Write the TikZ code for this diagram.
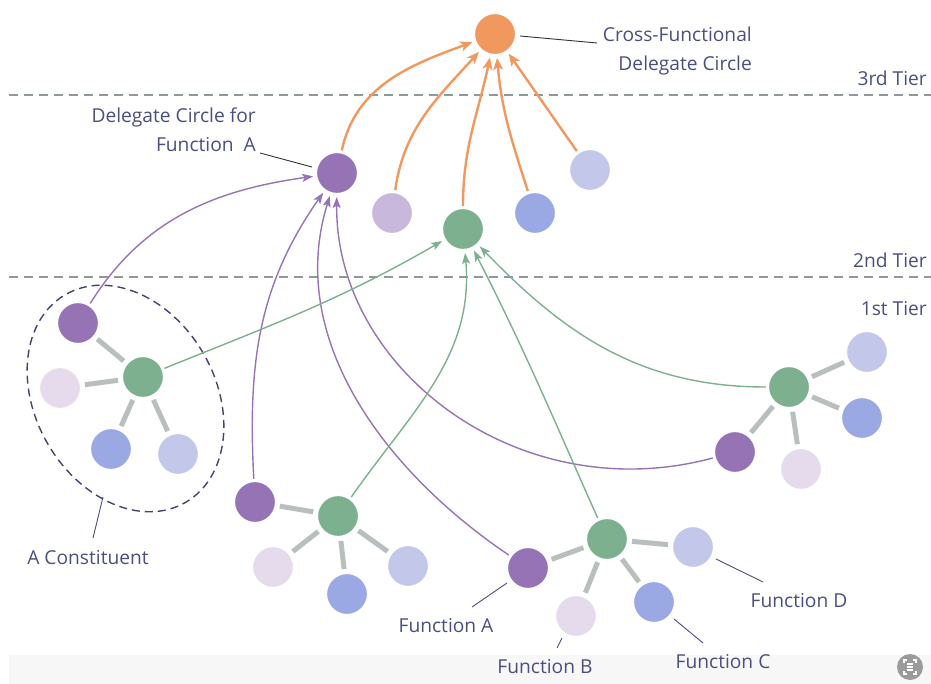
\documentclass[tikz,border=0pt]{standalone}
\usepackage{fontspec}
\setmainfont{Open Sans}
\usetikzlibrary{arrows.meta}

\definecolor{cpurple}{HTML}{9673B5}
\definecolor{cgreen}{HTML}{7DB08F}
\definecolor{corange}{HTML}{F0985E}
\definecolor{cblue}{HTML}{9AA8E4}
\definecolor{clav}{HTML}{C3C7EA}
\definecolor{cpink}{HTML}{E6DBEC}
\definecolor{clilac}{HTML}{C8B8DC}
\definecolor{spokegray}{HTML}{B9BFBC}
\definecolor{textnavy}{HTML}{4B4F7F}
\definecolor{tiergray}{HTML}{8E9999}
\definecolor{ringnavy}{HTML}{434370}
\definecolor{bandgray}{HTML}{F7F7F7}
\definecolor{icongray}{HTML}{9B9B9B}

\tikzset{
  dot/.style={circle, minimum size=41pt, inner sep=0pt, draw=white, line width=1.2pt, fill=#1},
  spoke/.style={draw=spokegray, line width=5pt, shorten <=4pt, shorten >=4pt},
  uparrow/.style={line width=2.4pt, draw=corange, -{Stealth[length=12pt,width=10pt,inset=3pt]}, shorten >=3pt, shorten <=2pt},
  purplearrow/.style={line width=1.4pt, draw=cpurple, -{Stealth[length=11pt,width=8pt,inset=2.5pt]}, shorten >=3pt, shorten <=2pt},
  greenarrow/.style={line width=1.4pt, draw=cgreen, -{Stealth[length=11pt,width=8pt,inset=2.5pt]}, shorten >=3pt, shorten <=2pt},
  lbl/.style={text=textnavy, font=\fontsize{19.2}{29}\selectfont, inner sep=0pt},
  tierline/.style={draw=tiergray, line width=1.3pt, dash pattern=on 9pt off 6pt},
  leaderdark/.style={draw=black!80, line width=0.9pt},
  leader/.style={draw=textnavy, line width=0.9pt},
}

\begin{document}
\begin{tikzpicture}[x=1pt,y=1pt]
\useasboundingbox (0,0) rectangle (931,-684);

% bottom strip
\fill[bandgray] (9,-655) rectangle (931,-684);
\fill[icongray] (910,-667) circle (13);
\draw[white, line width=1.1pt] (904,-663) -- (904,-660) -- (907,-660)
  (913,-660) -- (916,-660) -- (916,-663)
  (916,-671) -- (916,-674) -- (913,-674)
  (907,-674) -- (904,-674) -- (904,-671)
  (907,-664) -- (913,-664) (907,-667) -- (913,-667) (907,-670) -- (913,-670);

% tier separators
\draw[tierline] (9,-95) -- (931,-95);
\draw[tierline] (9,-277) -- (931,-277);
\node[lbl, anchor=east] (t3) at (927,-78) {3rd Tier};
\node[lbl, anchor=east] (t2) at (927,-260) {2nd Tier};
\node[lbl, anchor=east] (t1) at (927,-309) {1st Tier};

% constituent boundary
\draw[ringnavy, line width=1.4pt, dash pattern=on 8pt off 5pt,
      rotate around={30:(125.5,-398.5)}] (125.5,-398.5) ellipse [x radius=90, y radius=120];

% third tier
\node[dot=corange] (o) at (495,-34) {};

% second tier
\node[dot=cpurple] (dA) at (337,-173) {};
\node[dot=clilac]  (dL) at (392,-213) {};
\node[dot=cgreen]  (dG) at (463,-229) {};
\node[dot=cblue]   (dB) at (535,-213) {};
\node[dot=clav]    (dV) at (590,-170) {};

% constituent 1
\node[dot=cpurple] (p1) at (78,-323) {};
\node[dot=cpink]   (k1) at (60,-388) {};
\node[dot=cgreen]  (g1) at (143,-377) {};
\node[dot=cblue]   (b1) at (111,-449) {};
\node[dot=clav]    (v1) at (178,-454) {};

% constituent 2
\node[dot=cpurple] (p2) at (255,-502) {};
\node[dot=cgreen]  (g2) at (338,-516) {};
\node[dot=cpink]   (k2) at (273,-567) {};
\node[dot=cblue]   (b2) at (347,-594) {};
\node[dot=clav]    (v2) at (408,-566) {};

% constituent 3
\node[dot=cpurple] (p3) at (528,-568) {};
\node[dot=cgreen]  (g3) at (607,-539) {};
\node[dot=cpink]   (k3) at (576,-616) {};
\node[dot=cblue]   (b3) at (654,-602) {};
\node[dot=clav]    (v3) at (693,-547) {};

% constituent 4
\node[dot=cpurple] (p4) at (735,-452) {};
\node[dot=cgreen]  (g4) at (789,-387) {};
\node[dot=clav]    (v4) at (867,-352) {};
\node[dot=cblue]   (b4) at (862,-418) {};
\node[dot=cpink]   (k4) at (801,-469) {};

% spokes inside each constituent
\foreach \g/\a/\b/\c/\d in {g1/p1/k1/b1/v1, g2/p2/k2/b2/v2, g3/p3/k3/b3/v3, g4/p4/v4/b4/k4}{
  \draw[spoke] (\g) -- (\a);
  \draw[spoke] (\g) -- (\b);
  \draw[spoke] (\g) -- (\c);
  \draw[spoke] (\g) -- (\d);
}

% delegates to the cross-functional circle
\draw[uparrow] (dA) to[out=78,in=200] (o);
\draw[uparrow] (dL) to[out=82,in=228] (o);
\draw[uparrow] (dG) to[out=90,in=258] (o);
\draw[uparrow] (dB) to[out=108,in=275] (o);
\draw[uparrow] (dV) -- (o);

% function A members to their delegate
\draw[purplearrow] (p1) to[out=58,in=188] (dA);
\draw[purplearrow] (p2) to[out=93,in=235] (dA);
\draw[purplearrow] (p3) .. controls (387,-473) and (285,-340) .. (dA);
\draw[purplearrow] (p4) .. controls (520,-510) and (335,-370) .. (dA);

% constituent representatives to the green delegate
\draw[greenarrow] (g1) to[out=22,in=210] (dG);
\draw[greenarrow] (g2) to[out=55,in=275] (dG);
\draw[greenarrow] (g3) to[out=114,in=297] (dG);
\draw[greenarrow] (g4) to[out=180,in=314] (dG);

% labels and leaders
\node[lbl, align=right, anchor=east] (lcf) at (752,-51.5) {Cross-Functional\\Delegate Circle};
\coordinate (lcfa) at (597,-43);
\coordinate (lcfb) at (520,-36);
\draw[leaderdark] (lcfa) -- (lcfb);

\node[lbl, align=right, anchor=east] (lda) at (256,-129.5) {Delegate Circle for\\Function\ \ A};
\coordinate (ldaa) at (260,-153);
\coordinate (ldab) at (312,-167);
\draw[leaderdark] (ldaa) -- (ldab);

\node[lbl] (lac) at (88,-558) {A Constituent};
\coordinate (laca) at (93,-538);
\coordinate (lacb) at (103,-497);
\draw[leader] (laca) -- (lacb);

\node[lbl] (lfa) at (446,-626) {Function A};
\coordinate (lfaa) at (472,-607);
\coordinate (lfab) at (507,-583);
\draw[leader] (lfaa) -- (lfab);

\node[lbl] (lfb) at (545,-667) {Function B};
\coordinate (lfba) at (557,-648);
\coordinate (lfbb) at (562,-638);
\draw[leader] (lfba) -- (lfbb);

\node[lbl] (lfc) at (723,-662) {Function C};
\coordinate (lfca) at (703,-643);
\coordinate (lfcb) at (674,-619);
\draw[leader] (lfca) -- (lfcb);

\node[lbl] (lfd) at (799,-601) {Function D};
\coordinate (lfda) at (763,-582);
\coordinate (lfdb) at (716,-559);
\draw[leader] (lfda) -- (lfdb);
\end{tikzpicture}
\end{document}
